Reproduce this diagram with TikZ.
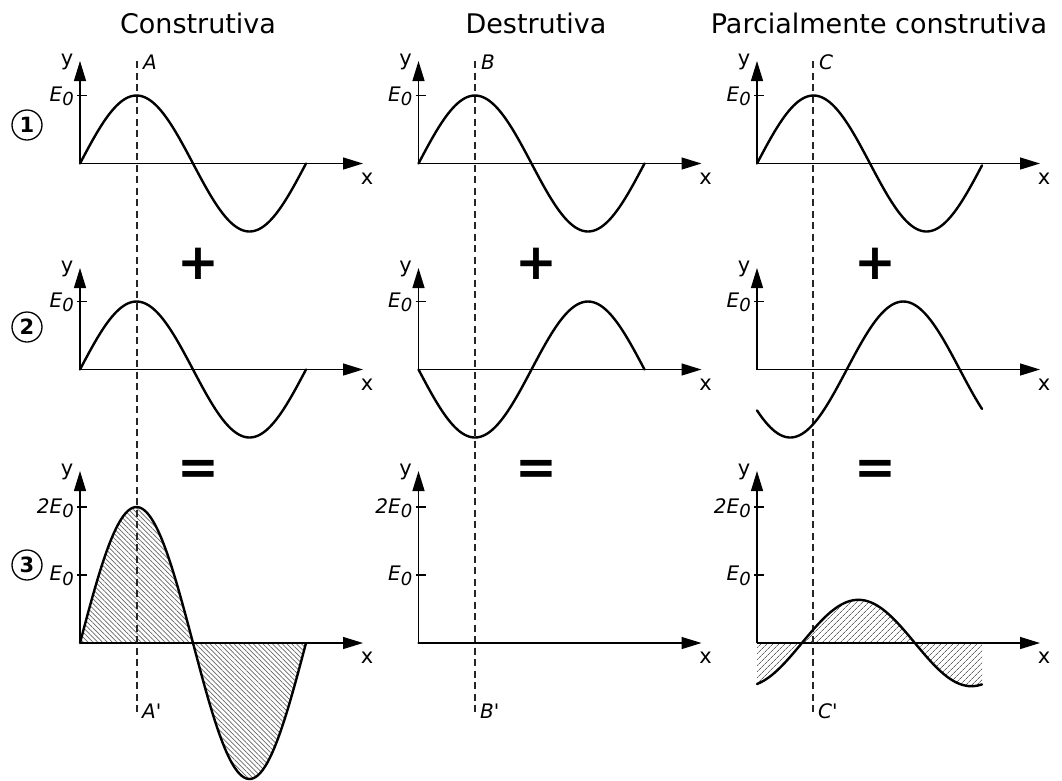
\documentclass[tikz,border=0pt]{standalone}
\usepackage{fontspec}
\setmainfont{DejaVu Sans}
\usetikzlibrary{arrows.meta,patterns.meta}
\newcommand\Ezero{E\raisebox{-4.5pt}{\fontsize{18}{18}\selectfont 0}}
\begin{document}
\begin{tikzpicture}[x=1pt,y=-1pt,
  axisarrow/.style={line width=1.3pt,-{Triangle[length=20pt,width=12pt]}},
  tickmark/.style={line width=1.3pt},
  wave/.style={line width=2.4pt,line join=round,line cap=round},
  guide/.style={line width=1.4pt,dash pattern=on 7pt off 4.5pt,black!85},
  lbl/.style={font=\fontsize{21}{21}\selectfont,inner sep=0pt},
  ital/.style={font=\fontsize{20}{20}\selectfont\itshape,inner sep=0pt},
  coltitle/.style={font=\fontsize{27}{30}\selectfont,inner sep=0pt},
  op/.style={font=\fontsize{50}{50}\selectfont\bfseries,inner sep=0pt},
  num/.style={circle,draw,line width=1.3pt,minimum size=30pt,inner sep=0pt,font=\fontsize{21}{21}\selectfont\bfseries},
  hatchA/.style={pattern={Lines[angle=-45,distance=3.4pt,line width=0.7pt]},pattern color=black!60},
  hatchC/.style={pattern={Lines[angle=45,distance=4pt,line width=0.7pt]},pattern color=black!60}]
\useasboundingbox (0,0) rectangle (1062,780);

% titles
\node[coltitle,anchor=base] (t1) at (198,33) {Construtiva};
\node[coltitle,anchor=base] (t2) at (536,33) {Destrutiva};
\node[coltitle,anchor=base] (t3) at (879,33) {Parcialmente construtiva};

% row numbers
\node[num] (n1) at (27,125) {1};
\node[num] (n2) at (27,327) {2};
\node[num] (n3) at (27,565) {3};

% hatched areas
\path[hatchA] plot[domain=0:226,samples=100] ({80+\x},{643-136*sin(\x/226*360)}) -- cycle;
\path[hatchC] (757,643) -- plot[domain=0:225,samples=100] ({757+\x},{643-43.2*sin(\x/226*360-71.5)}) -- (982,643) -- cycle;

% axes
\foreach \c/\X in {1/80,2/418.5,3/757} {
  \foreach \r/\Y/\T in {1/163.5/61,2/369.5/268,3/643/471} {
    \coordinate (o\c\r) at (\X,\Y);
    \coordinate (yt\c\r) at (\X,\T);
    \coordinate (xt\c\r) at (\X+283,\Y);
    \draw[axisarrow] (o\c\r) -- (yt\c\r);
    \draw[axisarrow] (o\c\r) -- (xt\c\r);
    \node[lbl] (y\c\r) at (\X-13,\T+1) {y};
    \node[lbl] (x\c\r) at (\X+287,\Y+15) {x};
    \coordinate (ta\c\r) at (\X-3,\Y-68);
    \coordinate (tb\c\r) at (\X+7,\Y-68);
    \draw[tickmark] (ta\c\r) -- (tb\c\r);
    \node[ital,anchor=east] (e\c\r) at (\X-6,\Y-67) {\Ezero};
  }
  \coordinate (tc\c) at (\X-3,507);
  \coordinate (td\c) at (\X+7,507);
  \draw[tickmark] (tc\c) -- (td\c);
  \node[ital,anchor=east] (f\c) at (\X-6,508) {2\Ezero};
}

% guide lines
\foreach \L/\X in {A/137,B/475,C/813} {
  \coordinate (\L top) at (\X,61);
  \coordinate (\L bot) at (\X,712);
  \draw[guide] (\L top) -- (\L bot);
  \node[ital,anchor=west] (\L lab) at (\X+6,62) {\L};
  \node[ital,anchor=west] (\L lab2) at (\X+5,711) {\L\textquotesingle};
}

% operators
\foreach \c/\X in {1/198,2/536.5,3/875} {
  \node[op] (plus\c) at (\X,264) {+};
  \node[op] (eq\c) at (\X,472) {=};
}

% waves column 1
\draw[wave] plot[domain=0:226,samples=100,smooth] ({80+\x},{163.5-68*sin(\x/226*360)});
\draw[wave] plot[domain=0:226,samples=100,smooth] ({80+\x},{369.5-68*sin(\x/226*360)});
\draw[wave] plot[domain=0:226,samples=100,smooth] ({80+\x},{643-136*sin(\x/226*360)});
% column 2
\draw[wave] plot[domain=0:226,samples=100,smooth] ({418.5+\x},{163.5-68*sin(\x/226*360)});
\draw[wave] plot[domain=0:226,samples=100,smooth] ({418.5+\x},{369.5+68*sin(\x/226*360)});
\draw[wave] (o23) -- ++(225,0);
% column 3
\draw[wave] plot[domain=0:225,samples=100,smooth] ({757+\x},{163.5-68*sin(\x/226*360)});
\draw[wave] plot[domain=0:225,samples=100,smooth] ({757+\x},{369.5-68*sin(\x/226*360-143)});
\draw[wave] plot[domain=0:225,samples=100,smooth] ({757+\x},{643-43.2*sin(\x/226*360-71.5)});
\end{tikzpicture}
\end{document}
